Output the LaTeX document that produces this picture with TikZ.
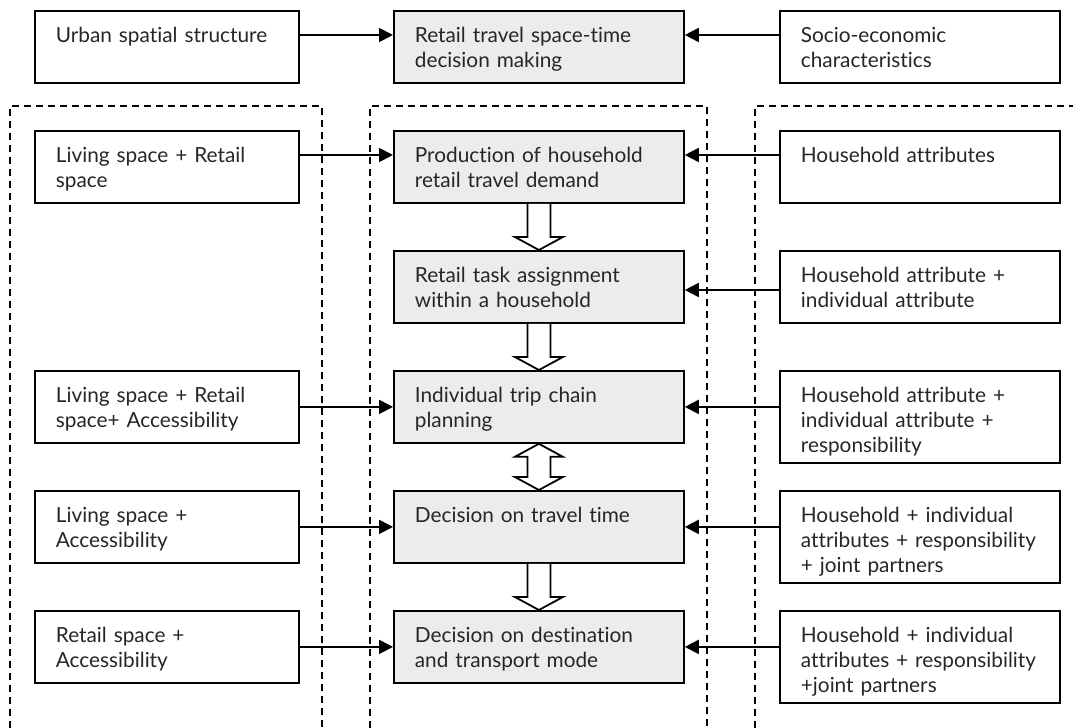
\documentclass[tikz,border=0pt]{standalone}
\usepackage{fontspec}
\setmainfont{Lato}[Ligatures=NoCommon]
\usetikzlibrary{arrows.meta, calc}

\begin{document}
\begin{tikzpicture}[x=0.5pt, y=-0.5pt,
        box/.style={draw, line width=0.9pt, anchor=north west, align=left,
            inner xsep=10.5pt, inner ysep=7pt, text height=9pt, text depth=13pt,
            font=\fontsize{10.4}{12.5}\selectfont, text=black!85},
        tall/.style={text depth=23pt},
        side/.style={box, text width=111pt},
        core/.style={box, text width=124pt, fill=gray!15},
        attr/.style={box, text width=119pt},
        group/.style={line width=0.6pt, dash pattern=on 3.5pt off 2.5pt},
        link/.style={line width=0.9pt, -{Triangle[length=7pt, width=7pt]}},
        downblock/.style={line width=0.9pt, fill=white, to path={
            ($(\tikztostart)+(-11.5,0)$) -- ($(\tikztotarget)+(-11.5,-13)$)
            -- ($(\tikztotarget)+(-24,-13)$) -- (\tikztotarget)
            -- ($(\tikztotarget)+(24,-13)$) -- ($(\tikztotarget)+(11.5,-13)$)
            -- ($(\tikztostart)+(11.5,0)$)}},
        bothblock/.style={line width=0.9pt, fill=white, to path={
            (\tikztostart) -- ($(\tikztostart)+(24,13)$) -- ($(\tikztostart)+(11.5,13)$)
            -- ($(\tikztotarget)+(11.5,-13)$) -- ($(\tikztotarget)+(24,-13)$)
            -- (\tikztotarget) -- ($(\tikztotarget)+(-24,-13)$)
            -- ($(\tikztotarget)+(-11.5,-13)$) -- ($(\tikztostart)+(-11.5,13)$)
            -- ($(\tikztostart)+(-24,13)$) -- cycle}}]
        \useasboundingbox (0,0) rectangle (1073,728);

        % Draw the dashed groups
        \draw[group] (10,740) -- (10,106) -- (322,106) -- (322,740);
        \draw[group] (370,740) -- (370,106) -- (707,106) -- (707,740);
        \draw[group] (755,740) -- (755,106) -- (1080,106);

        % Top row
        \node[side] (urban) at (34,10) {Urban spatial structure};
        \node[core] (decide) at (393,10) {Retail travel space-time\\decision making};
        \node[attr] (socio) at (779,10) {Socio-economic\\characteristics};

        % Space factors
        \node[side] (liv1) at (34,130) {Living space + Retail\\space};
        \node[side] (liv3) at (34,370) {Living space + Retail\\space+ Accessibility};
        \node[side] (liv4) at (34,490) {Living space +\\Accessibility};
        \node[side] (liv5) at (34,610) {Retail space +\\Accessibility};

        % Decision steps
        \node[core] (demand) at (393,130) {Production of household\\retail travel demand};
        \node[core] (assign) at (393,250) {Retail task assignment\\within a household};
        \node[core] (chain) at (393,370) {Individual trip chain\\planning};
        \node[core] (ttime) at (393,490) {Decision on travel time};
        \node[core] (dest) at (393,610) {Decision on destination\\and transport mode};

        % Household and individual factors
        \node[attr] (hh1) at (779,130) {Household attributes};
        \node[attr] (hh2) at (779,250) {Household attribute +\\individual attribute};
        \node[attr, tall] (hh3) at (779,370) {Household attribute +\\individual attribute +\\responsibility};
        \node[attr, tall] (hh4) at (779,490) {Household + individual\\attributes + responsibility\\+ joint partners};
        \node[attr, tall] (hh5) at (779,610) {Household + individual\\attributes + responsibility\\+joint partners};

        % Arrows into the decisions
        \draw[link] ($(urban.north east)+(0,25)$) -- ($(decide.north west)+(0,25)$);
        \draw[link] ($(socio.north west)+(0,25)$) -- ($(decide.north east)+(0,25)$);
        \draw[link] ($(liv1.north east)+(0,25)$) -- ($(demand.north west)+(0,25)$);
        \draw[link] ($(hh1.north west)+(0,25)$) -- ($(demand.north east)+(0,25)$);
        \draw[link] ($(hh2.north west)+(0,40)$) -- ($(assign.north east)+(0,40)$);
        \draw[link] (liv3.east) -- (chain.west);
        \draw[link] (liv4.east) -- (ttime.west);
        \draw[link] (liv5.east) -- (dest.west);
        \draw[link] (hh3.west |- chain.east) -- (chain.east);
        \draw[link] (hh4.west |- ttime.east) -- (ttime.east);
        \draw[link] (hh5.west |- dest.east) -- (dest.east);

        % Block arrows between the steps
        \draw[downblock] (demand.south) to (assign.north);
        \draw[downblock] (assign.south) to (chain.north);
        \draw[bothblock] (chain.south) to (ttime.north);
        \draw[downblock] (ttime.south) to (dest.north);
    \end{tikzpicture}
\end{document}
